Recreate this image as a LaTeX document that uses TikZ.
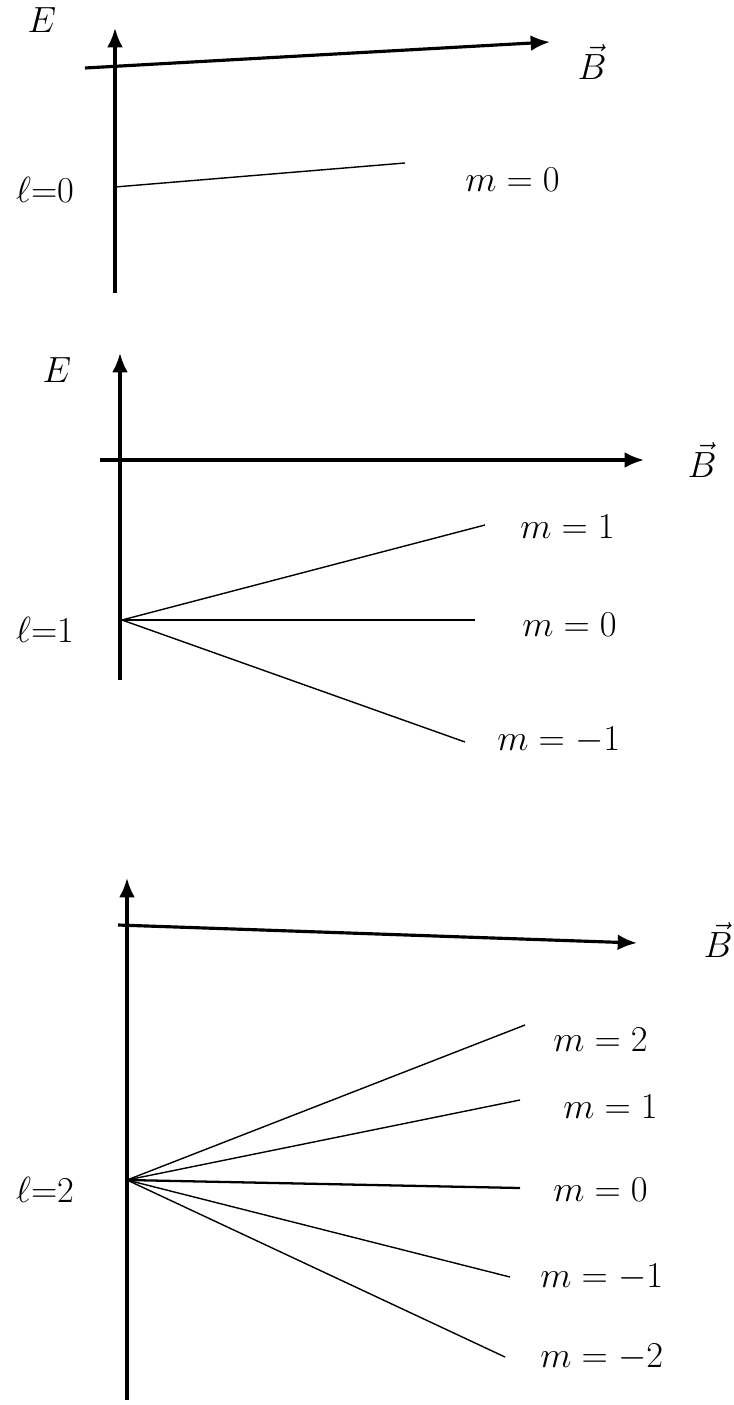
\documentclass[tikz,border=0pt]{standalone}
\usetikzlibrary{arrows.meta}
\begin{document}
\begin{tikzpicture}[x=0.02cm,y=-0.02cm,
  axisline/.style={line width=1.8pt,-{Latex[length=11pt,width=9pt]}},
  level/.style={line width=0.8pt},
  lbl/.style={font=\fontsize{20}{24}\selectfont, inner sep=0pt},
]
\useasboundingbox (0,0) rectangle (733,1405);
% ---------- panel 1: l = 0
\coordinate (v1s) at (115,293);
\coordinate (v1e) at (115,28);
\coordinate (h1s) at (85,68);
\coordinate (h1e) at (550,42);
\draw[axisline] (v1s) -- (v1e);
\draw[axisline] (h1s) -- (h1e);
\node[lbl] (E1) at (42,20) {$E$};
\node[lbl] (B1) at (592,62) {$\vec{B}$};
\coordinate (j1) at (115,187);
\coordinate (e10) at (405,163);
\draw[level] (j1) -- (e10);
\node[lbl, anchor=west] (m10) at (465,180) {$m=0$};
\node[lbl] (L0) at (45,190) {$\ell{=}0$};
% ---------- panel 2: l = 1
\coordinate (v2s) at (120,680);
\coordinate (v2e) at (120,353);
\coordinate (h2s) at (100,460);
\coordinate (h2e) at (644,460);
\draw[axisline] (v2s) -- (v2e);
\draw[axisline] (h2s) -- (h2e);
\node[lbl] (E2) at (57,370) {$E$};
\node[lbl] (B2) at (702,460) {$\vec{B}$};
\coordinate (j2) at (122,620);
\coordinate (e21) at (485,525);
\coordinate (e20) at (475,620);
\coordinate (e2m1) at (465,742);
\draw[level] (j2) -- (e21);
\draw[level] (j2) -- (e20);
\draw[level] (j2) -- (e2m1);
\node[lbl, anchor=west] (m21) at (520,527) {$m=1$};
\node[lbl, anchor=west] (m20) at (522,625) {$m=0$};
\node[lbl, anchor=west] (m2m1) at (497,740) {$m=-1$};
\node[lbl] (L1) at (45,630) {$\ell{=}1$};
% ---------- panel 3: l = 2
\coordinate (v3s) at (127,1400);
\coordinate (v3e) at (127,878);
\coordinate (h3s) at (118,925);
\coordinate (h3e) at (637,943);
\draw[axisline] (v3s) -- (v3e);
\draw[axisline] (h3s) -- (h3e);
\node[lbl] (B3) at (718,940) {$\vec{B}$};
\coordinate (j3) at (127,1180);
\coordinate (e32) at (525,1025);
\coordinate (e31) at (520,1100);
\coordinate (e30) at (520,1188);
\coordinate (e3m1) at (510,1277);
\coordinate (e3m2) at (505,1357);
\draw[level] (j3) -- (e32);
\draw[level] (j3) -- (e31);
\draw[level, line width=1.3pt] (j3) -- (e30);
\draw[level] (j3) -- (e3m1);
\draw[level] (j3) -- (e3m2);
\node[lbl, anchor=west] (m32) at (553,1040) {$m=2$};
\node[lbl, anchor=west] (m31) at (563,1107) {$m=1$};
\node[lbl, anchor=west] (m30) at (553,1190) {$m=0$};
\node[lbl, anchor=west] (m3m1) at (540,1277) {$m=-1$};
\node[lbl, anchor=west] (m3m2) at (540,1357) {$m=-2$};
\node[lbl] (L2) at (45,1190) {$\ell{=}2$};
\end{tikzpicture}
\end{document}
